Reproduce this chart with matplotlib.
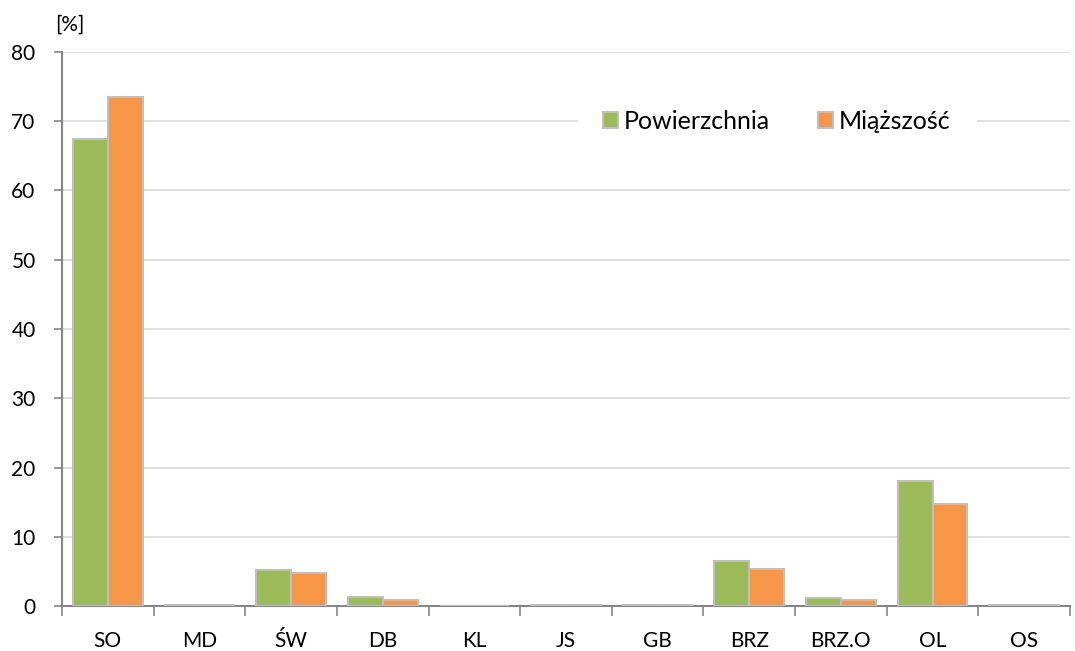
import matplotlib
matplotlib.use("Agg")
import matplotlib.pyplot as plt
import numpy as np

categories = ["SO", "MD", "ŚW", "DB", "KL", "JS", "GB", "BRZ", "BRZ.O", "OL", "OS"]
powierzchnia = [67.4, 0.1, 5.2, 1.3, 0.0, 0.1, 0.1, 6.5, 1.2, 18.1, 0.1]
miazszosc = [73.5, 0.1, 4.7, 0.8, 0.0, 0.1, 0.1, 5.3, 0.8, 14.7, 0.1]
yticks = [0, 10, 20, 30, 40, 50, 60, 70, 80]

plt.rcParams['font.family'] = ['Lato', 'DejaVu Sans']

fig = plt.figure(figsize=(10.75, 6.51), dpi=100)
ax = fig.add_axes([62/1075, 1-606/651, (1070-62)/1075, (606-52)/651])

x = np.arange(len(categories))
w = 0.38
ax.bar(x - w/2, powierzchnia, w, color="#9BBB59", edgecolor="#BFBFBF", linewidth=1.5,
       label="Powierzchnia", zorder=3)
ax.bar(x + w/2, miazszosc, w, color="#F79646", edgecolor="#BFBFBF", linewidth=1.5,
       label="Miąższość", zorder=3)

ax.set_xlim(-0.5, len(categories) - 0.5)
ax.set_ylim(0, 80)
ax.set_yticks(yticks)
ax.set_yticklabels([str(v) for v in yticks], fontsize=15)
ax.yaxis.grid(True, color="#D9D9D9", linewidth=1.2, zorder=0)
ax.set_axisbelow(True)

ax.set_xticks(np.arange(-0.5, len(categories), 1.0))
ax.set_xticklabels([])
ax.set_xticks(x, minor=True)
ax.set_xticklabels(categories, minor=True, fontsize=15)
ax.tick_params(axis="x", which="major", length=7, width=1.2, color="#868686", direction="out")
ax.tick_params(axis="x", which="minor", length=0, pad=18)
ax.tick_params(axis="y", length=6, width=1.2, color="#868686", direction="out", pad=13)

for s in ["top", "right"]:
    ax.spines[s].set_visible(False)
for s in ["left", "bottom"]:
    ax.spines[s].set_color("#868686")
    ax.spines[s].set_linewidth(1.5)

fig.text(55/1075, 1-25/651, "[%]", fontsize=15, ha="left", va="center")

leg = ax.legend(loc="center", bbox_to_anchor=(0.709, 0.875), ncol=2, frameon=True,
                fontsize=18, handlelength=0.6, handleheight=0.6, handletextpad=0.25,
                columnspacing=1.9, borderpad=1.0, fancybox=False)
leg.get_frame().set_edgecolor("white")
leg.get_frame().set_facecolor("white")
leg.get_frame().set_alpha(1)

fig.savefig("out.png", dpi=100)
